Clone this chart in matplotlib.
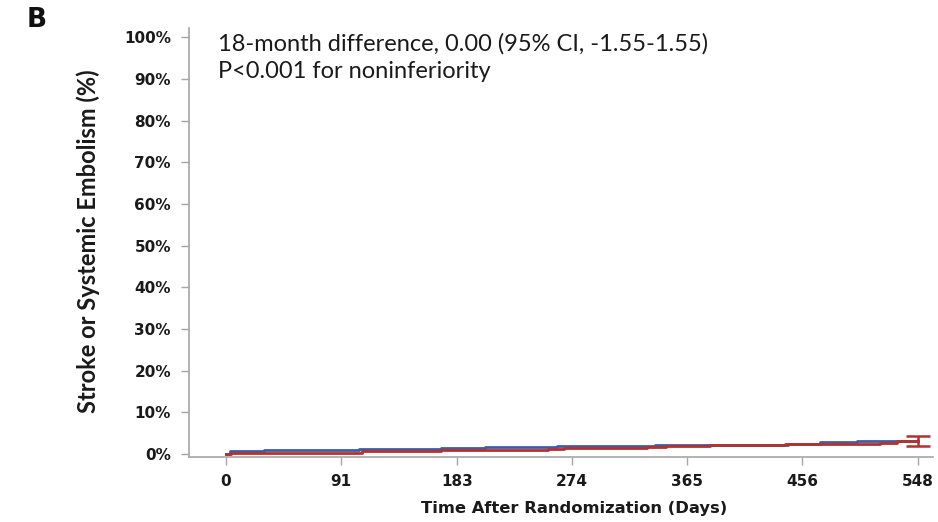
"""Kaplan-Meier style cumulative incidence, panel B."""

import matplotlib
matplotlib.use("Agg")
import matplotlib.pyplot as plt

# cumulative incidence (%), step-post
blue_days = [0, 3, 30, 60, 105, 170, 205, 262, 340, 400, 445, 470, 500, 525, 548]
blue_pct = [0.0, 0.6, 0.85, 1.05, 1.3, 1.45, 1.7, 2.0, 2.05, 2.15, 2.45, 2.8, 3.0, 3.2, 3.2]

red_days = [0, 4, 108, 170, 228, 255, 268, 333, 348, 383, 443, 518, 531, 548]
red_pct = [0.0, 0.35, 0.7, 0.9, 1.05, 1.3, 1.45, 1.75, 1.95, 2.15, 2.4, 2.6, 3.05, 3.05]

ci_day = 548
ci_mid = 3.0
ci_low = 1.8
ci_high = 4.2

x_ticks = [0, 91, 183, 274, 365, 456, 548]
y_ticks = list(range(0, 101, 10))

BLUE = "#3d5da6"
RED = "#b3312f"
GREY = "#a6a6a6"

fig = plt.figure(figsize=(9.38, 5.22), dpi=100)
ax = fig.add_axes([189 / 938, 1 - 457 / 522, (933 - 189) / 938, (457 - 28) / 522])

ax.step(blue_days, blue_pct, where="post", color=BLUE, lw=2.0)
ax.step(red_days, red_pct, where="post", color=RED, lw=2.0)
ax.errorbar([ci_day], [ci_mid], yerr=[[ci_mid - ci_low], [ci_high - ci_mid]],
            fmt="none", ecolor=RED, elinewidth=1.8, capsize=8.5, capthick=1.8)

ax.set_xlim(-29.3, 559.8)
ax.set_ylim(-0.72, 102.2)
ax.set_xticks(x_ticks)
ax.set_yticks(y_ticks)
ax.set_yticklabels([f"{v}%" for v in y_ticks])

for side in ("top", "right"):
    ax.spines[side].set_visible(False)
for side in ("left", "bottom"):
    ax.spines[side].set_color(GREY)
    ax.spines[side].set_linewidth(1.2)

ax.tick_params(axis="both", direction="out", length=6, width=1, color=GREY,
               labelcolor="#1a1a1a")
ax.tick_params(axis="y", pad=7)
ax.tick_params(axis="x", pad=6)
for lbl in ax.get_xticklabels() + ax.get_yticklabels():
    lbl.set_fontfamily("DejaVu Sans")
    lbl.set_fontweight("bold")
    lbl.set_fontsize(11)

ax.set_xlabel("Time After Randomization (Days)", fontfamily="DejaVu Sans",
              fontweight="bold", fontsize=11.8, color="#1a1a1a")
ax.xaxis.set_label_coords(0.5175, -0.103)
ax.set_ylabel("Stroke or Systemic Embolism (%)", fontfamily="Lato",
              fontweight="bold", fontsize=17, color="#1a1a1a")
ax.yaxis.set_label_coords(-0.1196, 0.503)

fig.text(218 / 938, 1 - 51 / 522, "18-month difference, 0.00 (95% CI, -1.55-1.55)",
         fontfamily="Lato", fontsize=17, color="#1a1a1a", va="baseline")
fig.text(218 / 938, 1 - 78 / 522, "P<0.001 for noninferiority",
         fontfamily="Lato", fontsize=17, color="#1a1a1a", va="baseline")

fig.text(27 / 938, 1 - 27 / 522, "B", fontfamily="DejaVu Sans", fontweight="bold",
         fontsize=19, color="#111111", va="baseline")

fig.savefig("out.png", dpi=100)
